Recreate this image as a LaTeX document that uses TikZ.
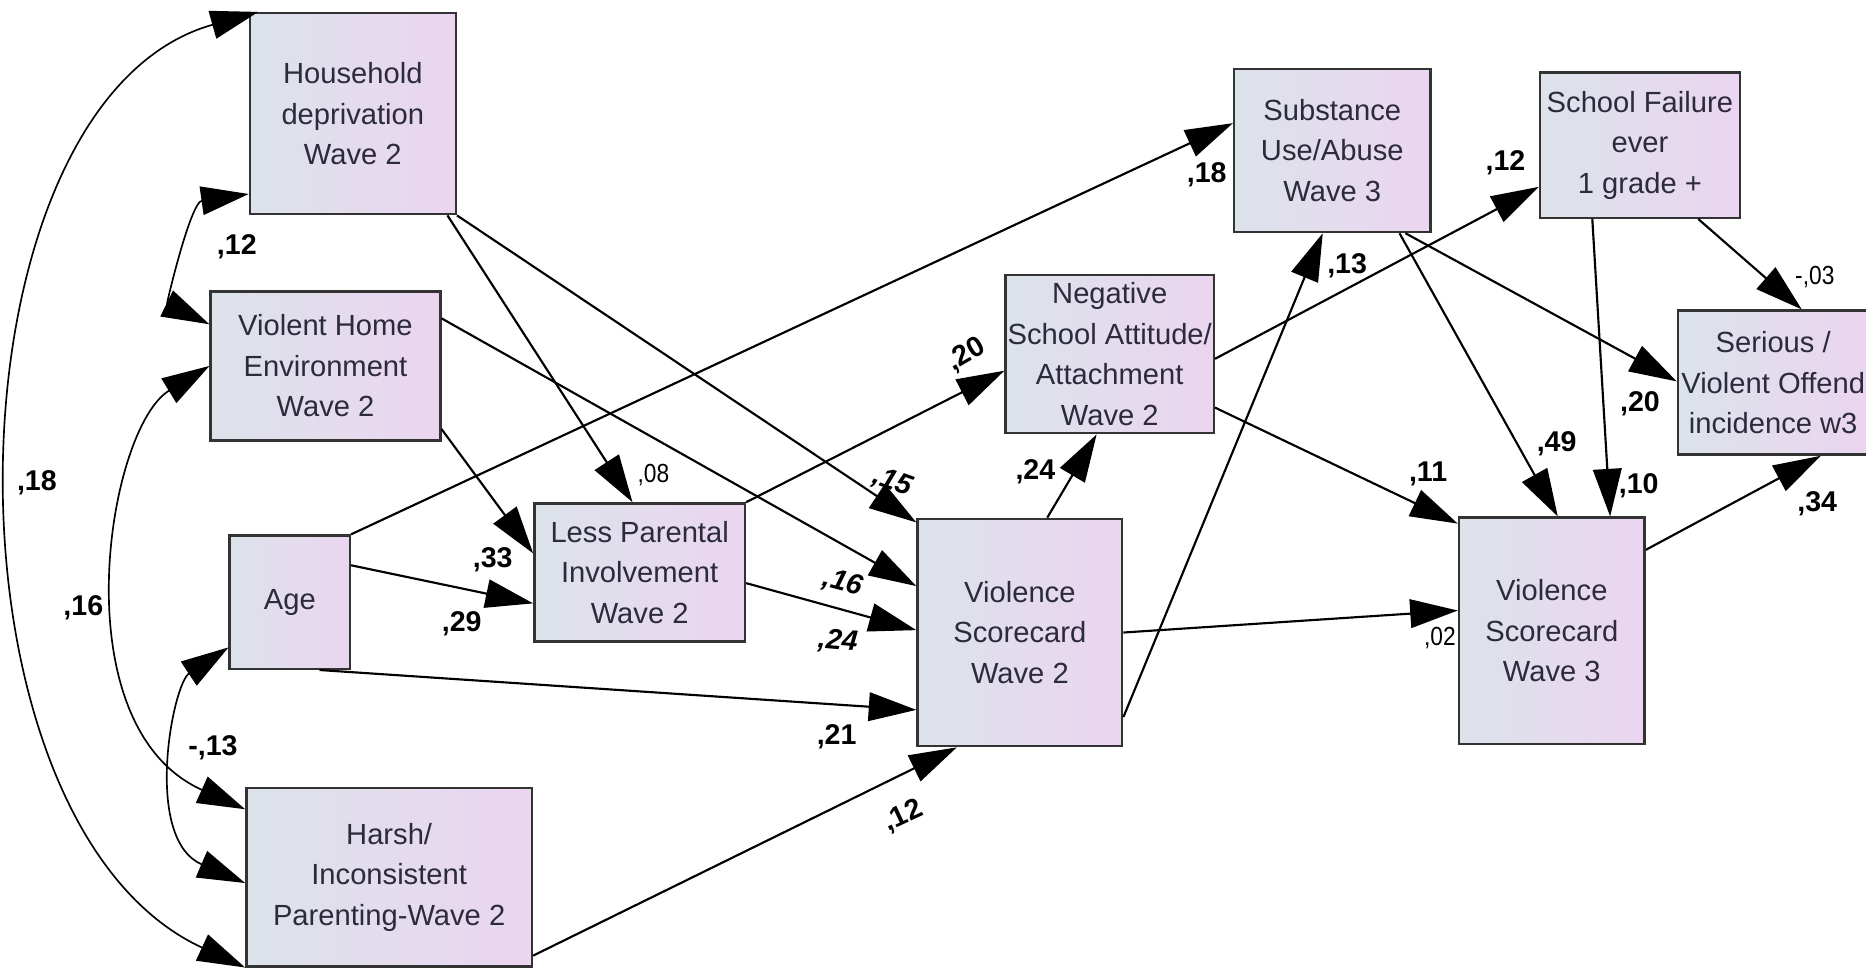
\documentclass[tikz,border=0pt]{standalone}
\usepackage{fontspec}
\setmainfont{Liberation Sans}
\newfontfamily\rsqfont{Liberation Sans}[FakeStretch=0.87]
\usetikzlibrary{arrows.meta,calc}
\definecolor{boxL}{HTML}{DCE3EA}
\definecolor{boxR}{HTML}{EBD5F0}
\definecolor{boxtext}{HTML}{2B2B3B}

\begin{document}
\begin{tikzpicture}[x=1pt,y=-1pt,
  var/.style={draw=black!80,line width=2pt,left color=boxL,right color=boxR,
    align=center,inner sep=0pt,text=boxtext,font=\fontsize{24.5}{34}\selectfont},
  coef/.style={font=\bfseries\fontsize{24}{24}\selectfont},
  coefit/.style={font=\bfseries\itshape\fontsize{24}{24}\selectfont},
  rsq/.style={font=\rsqfont\fontsize{22}{22}\selectfont},
  >={Triangle[length=40pt,width=24pt]},
  eff/.style={line width=1.8pt,->},
  cov/.style={line width=1.4pt,<->}]
\clip (0,0) rectangle (1568,815);
% exogenous variables
\node[var,minimum width=173pt,minimum height=169pt] (hh) at (296.5,95.5) {Household\\deprivation\\Wave 2};
\node[var,minimum width=193pt,minimum height=125pt] (vh) at (273.5,307.5) {Violent Home\\Environment\\Wave 2};
\node[var,minimum width=101pt,minimum height=112pt] (age) at (243.5,506) {Age};
\node[var,minimum width=240pt,minimum height=150pt] (hp) at (327,737) {Harsh/\\Inconsistent\\Parenting-Wave 2};
% mediators and outcomes
\node[var,minimum width=177pt,minimum height=116pt] (lp) at (537.5,481) {Less Parental\\Involvement\\Wave 2};
\node[var,minimum width=172pt,minimum height=191pt] (vs2) at (857,531.5) {Violence\\Scorecard\\Wave 2};
\node[var,minimum width=175pt,minimum height=133pt] (ns) at (932.5,297.5) {Negative\\School Attitude/\\Attachment\\Wave 2};
\node[var,minimum width=165pt,minimum height=137pt] (sub) at (1119.5,126.5) {Substance\\Use/Abuse\\Wave 3};
\node[var,minimum width=168pt,minimum height=122pt] (sf) at (1378,122) {School Failure\\ever\\1 grade +};
\node[var,minimum width=160pt,minimum height=121pt] (srs) at (1490,321.5) {Serious /\\Violent Offend\\incidence w3};
\node[var,minimum width=156pt,minimum height=190pt] (vs3) at (1304,530) {Violence\\Scorecard\\Wave 3};
% covariances
\draw[cov] ($(hh.south west)+(0,-18)$) .. controls (160,170) and (140,255) .. ($(vh.west)+(0,-35)$);
\draw[cov] ($(hh.north west)+(8,0)$) .. controls (-50,85) and (-60,690) .. (hp.south west);
\draw[cov] (vh.west) .. controls (90,360) and (50,610) .. ($(hp.north west)+(0,19)$);
\draw[cov] ($(age.west)+(0,38)$) .. controls (145,575) and (120,705) .. ($(hp.west)+(0,5)$);
% paths
\draw[eff] (age.north east) -- ($(sub.west)+(0,-23)$);
\draw[eff] ($(hh.south east)+(-8,0)$) -- ($(lp.north)+(-6,0)$);
\draw[eff] (hh.south east) -- ($(vs2.north west)+(0,4)$);
\draw[eff] ($(vh.east)+(0,-40)$) -- ($(vs2.west)+(0,-39)$);
\draw[eff] ($(vh.east)+(0,53)$) -- ($(lp.west)+(0,-16)$);
\draw[eff] ($(age.east)+(0,-31)$) -- ($(lp.west)+(0,26)$);
\draw[eff] ($(lp.east)+(0,9)$) -- ($(vs2.west)+(0,-2)$);
\draw[eff] ($(age.south)+(25,0)$) -- ($(vs2.west)+(0,65)$);
\draw[eff] ($(hp.south east)+(0,-10)$) -- ($(vs2.south west)+(34,0)$);
\draw[eff] (lp.north east) -- ($(ns.west)+(0,14)$);
\draw[eff] ($(vs2.north)+(23,0)$) -- ($(ns.south)+(-11,0)$);
\draw[eff] ($(vs2.east)+(0,71)$) -- ($(sub.south)+(-8,0)$);
\draw[eff] (vs2.east) -- ($(vs3.west)+(0,-17)$);
\draw[eff] ($(ns.east)+(0,4)$) -- ($(sf.west)+(0,35)$);
\draw[eff] ($(ns.east)+(0,45)$) -- ($(vs3.north west)+(0,6)$);
\draw[eff] ($(sub.south east)+(-27,0)$) -- ($(vs3.north)+(5,0)$);
\draw[eff] ($(sub.south east)+(-22,0)$) -- ($(srs.west)+(0,-1)$);
\draw[eff] ($(sf.south)+(-40,0)$) -- ($(vs3.north)+(49,0)$);
\draw[eff] ($(sf.south east)+(-36,0)$) -- ($(srs.north)+(24,0)$);
\draw[eff] ($(vs3.east)+(0,-68)$) -- ($(srs.south)+(40,0)$);
% coefficients
\node[coef] (c1) at (199,207) {,12};
\node[coef] (c2) at (31,406) {,18};
\node[coef] (c3) at (70,511) {,16};
\node[coef] (c4) at (179,628) {-,13};
\node[coef] (c5) at (414,470) {,33};
\node[coef] (c6) at (388,524) {,29};
\node[rsq] (r1) at (549,399) {,08};
\node[coefit,rotate=-20] (c7) at (750,405) {,15};
\node[coefit,rotate=-15] (c8) at (708,490) {,16};
\node[coefit,rotate=-5] (c9) at (704,539) {,24};
\node[coef] (c10) at (703,619) {,21};
\node[coef,rotate=25] (c11) at (759,686) {,12};
\node[coef,rotate=30] (c12) at (812,298) {,20};
\node[coef] (c13) at (870,396) {,24};
\node[coef] (c14) at (1014,147) {,18};
\node[coef] (c15) at (1132,223) {,13};
\node[coef] (c16) at (1265,137) {,12};
\node[rsq] (r2) at (1210,536) {,02};
\node[coef] (c17) at (1200,398) {,11};
\node[coef] (c18) at (1308,373) {,49};
\node[coef] (c19) at (1377,408) {,10};
\node[coef] (c20) at (1378,339) {,20};
\node[rsq] (r3) at (1525,233) {-,03};
\node[coef] (c21) at (1527,423) {,34};
\end{tikzpicture}
\end{document}
